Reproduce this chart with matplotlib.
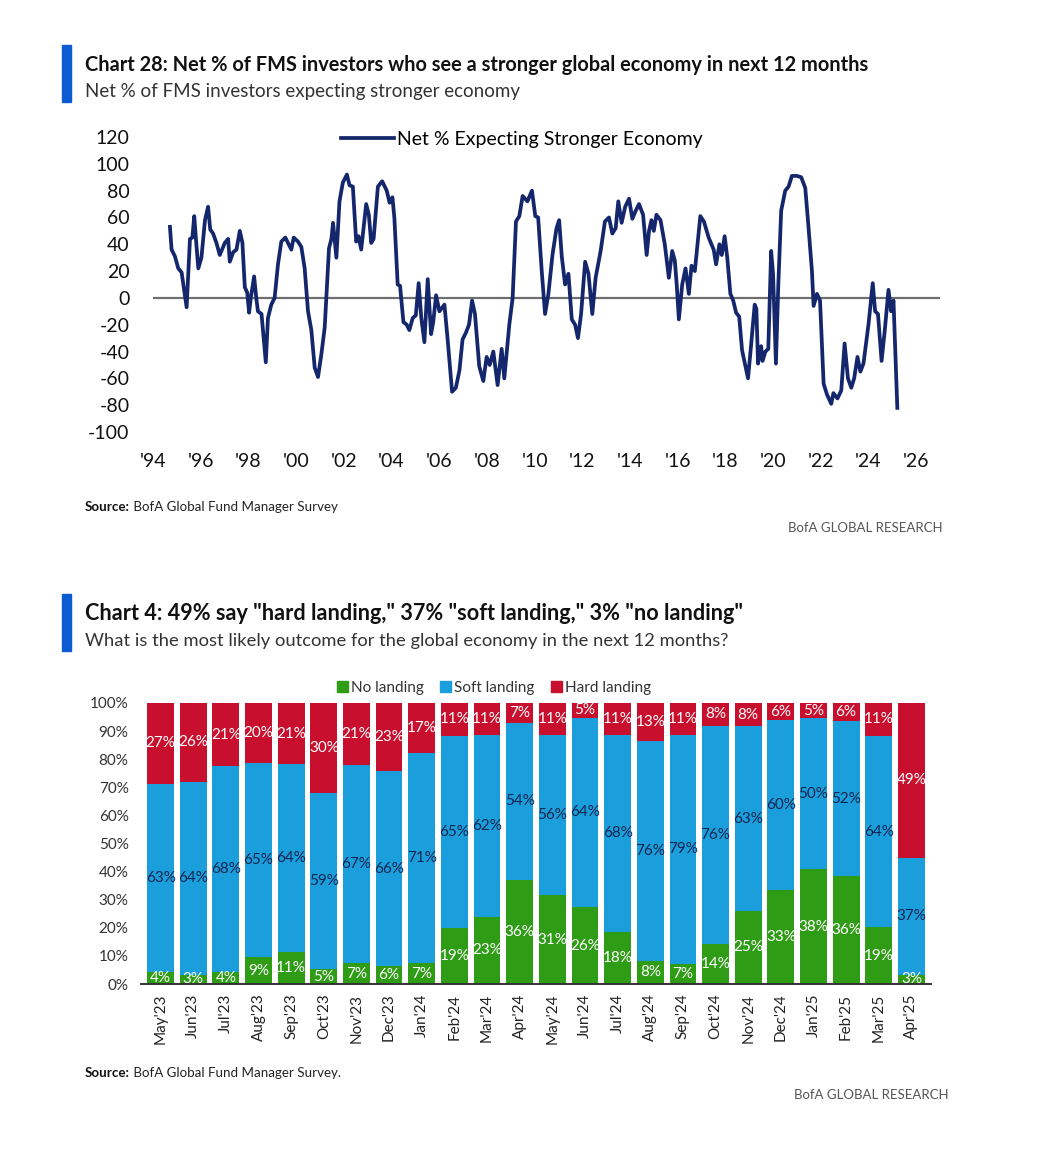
import numpy as np
import matplotlib
matplotlib.use("Agg")
import matplotlib.pyplot as plt
from matplotlib import font_manager
from matplotlib.patches import Rectangle, Patch
from matplotlib.lines import Line2D

# -----------------------------
#  Data: Chart 28 (net % expecting stronger economy)
# -----------------------------
years = [1994.71, 1994.78, 1994.92, 1995.06, 1995.20, 1995.41, 1995.55, 1995.65, 1995.73, 1995.80,
         1995.90, 1996.03, 1996.18, 1996.31, 1996.40, 1996.52, 1996.66, 1996.80, 1997.01, 1997.15,
         1997.22, 1997.36, 1997.50, 1997.64, 1997.75, 1997.85, 1997.95, 1998.03, 1998.10, 1998.24,
         1998.33, 1998.40, 1998.55, 1998.73, 1998.82, 1998.96, 1999.10, 1999.24, 1999.38, 1999.55,
         1999.80, 1999.90, 2000.08, 2000.22, 2000.36, 2000.50, 2000.64, 2000.78, 2000.92, 2001.06,
         2001.20, 2001.38, 2001.48, 2001.55, 2001.69, 2001.82, 2001.96, 2002.13, 2002.24, 2002.38,
         2002.52, 2002.62, 2002.73, 2002.94, 2003.05, 2003.15, 2003.25, 2003.43, 2003.61, 2003.80,
         2003.92, 2004.04, 2004.12, 2004.26, 2004.36, 2004.50, 2004.64, 2004.75, 2004.89, 2005.02,
         2005.14, 2005.25, 2005.38, 2005.52, 2005.66, 2005.75, 2005.87, 2006.01, 2006.22, 2006.36,
         2006.54, 2006.70, 2006.85, 2006.98, 2007.12, 2007.25, 2007.38, 2007.50, 2007.68, 2007.85,
         2007.99, 2008.12, 2008.27, 2008.45, 2008.62, 2008.73, 2008.94, 2009.08, 2009.22, 2009.36,
         2009.50, 2009.70, 2009.89, 2010.03, 2010.15, 2010.30, 2010.44, 2010.58, 2010.75, 2010.92,
         2011.03, 2011.14, 2011.28, 2011.42, 2011.56, 2011.70, 2011.82, 2011.95, 2012.12, 2012.26,
         2012.42, 2012.56, 2012.77, 2012.95, 2013.12, 2013.26, 2013.40, 2013.51, 2013.65, 2013.80,
         2013.96, 2014.10, 2014.24, 2014.38, 2014.55, 2014.70, 2014.80, 2014.90, 2015.00, 2015.11,
         2015.28, 2015.46, 2015.63, 2015.77, 2015.88, 2015.96, 2016.05, 2016.19, 2016.33, 2016.47,
         2016.58, 2016.72, 2016.95, 2017.10, 2017.30, 2017.51, 2017.61, 2017.75, 2017.85, 2017.97,
         2018.08, 2018.21, 2018.33, 2018.45, 2018.58, 2018.70, 2018.95, 2019.08, 2019.23, 2019.30,
         2019.37, 2019.50, 2019.56, 2019.68, 2019.80, 2019.92, 2020.00, 2020.12, 2020.22, 2020.34,
         2020.51, 2020.65, 2020.79, 2021.00, 2021.18, 2021.35, 2021.49, 2021.63, 2021.70, 2021.84,
         2021.97, 2022.12, 2022.26, 2022.44, 2022.53, 2022.70, 2022.86, 2023.00, 2023.14, 2023.28,
         2023.40, 2023.54, 2023.66, 2023.79, 2024.00, 2024.18, 2024.28, 2024.40, 2024.55, 2024.68,
         2024.84, 2024.95, 2025.05, 2025.21]
net_pct = [53, 36, 31, 22, 19, -7, 44, 45, 61, 44,
           22, 30, 58, 68, 51, 48, 41, 32, 41, 44,
           27, 34, 36, 50, 41, 8, 4, -11, 0, 16,
           0, -10, -12, -48, -15, -5, 0, 25, 42, 45,
           36, 45, 42, 38, 22, -10, -24, -52, -59, -42,
           -22, 37, 44, 56, 30, 72, 86, 92, 84, 83,
           42, 46, 36, 70, 62, 41, 44, 83, 87, 80,
           71, 75, 60, 10, 9, -18, -20, -24, -15, -13,
           11, -15, -33, 14, -27, -18, 2, -10, -5, -32,
           -70, -67, -54, -31, -26, -20, -2, -12, -51, -62,
           -44, -50, -40, -65, -38, -60, -20, 0, 57, 61,
           76, 72, 80, 61, 60, 20, -12, 3, 32, 52,
           58, 31, 10, 18, -16, -20, -30, -12, 27, 18,
           -12, 15, 35, 57, 60, 48, 52, 72, 56, 68,
           74, 59, 65, 70, 62, 32, 50, 58, 50, 62,
           58, 40, 15, 35, 28, 10, -16, 10, 22, 3,
           24, 20, 61, 57, 45, 36, 25, 40, 32, 46,
           30, 3, -2, -11, -14, -39, -60, -35, -5, -8,
           -49, -36, -47, -40, -38, 35, 18, -49, 10, 65,
           80, 83, 91, 91, 90, 82, 52, 20, -6, 3,
           -2, -64, -72, -79, -71, -75, -69, -34, -60, -67,
           -60, -44, -55, -49, -20, 11, -10, -12, -47, -25,
           6, -10, -2, -82]
year_ticks = list(range(1994, 2027, 2))

# -----------------------------
#  Data: Chart 4 (landing outcome)
# -----------------------------
months = ["May'23", "Jun'23", "Jul'23", "Aug'23", "Sep'23", "Oct'23", "Nov'23", "Dec'23",
          "Jan'24", "Feb'24", "Mar'24", "Apr'24", "May'24", "Jun'24", "Jul'24", "Aug'24",
          "Sep'24", "Oct'24", "Nov'24", "Dec'24", "Jan'25", "Feb'25", "Mar'25", "Apr'25"]
no_landing = [4, 3, 4, 9, 11, 5, 7, 6, 7, 19, 23, 36, 31, 26, 18, 8, 7, 14, 25, 33, 38, 36, 19, 3]
soft_landing = [63, 64, 68, 65, 64, 59, 67, 66, 71, 65, 62, 54, 56, 64, 68, 76, 79, 76, 63, 60, 50, 52, 64, 37]
hard_landing = [27, 26, 21, 20, 21, 30, 21, 23, 17, 11, 11, 7, 11, 5, 11, 13, 11, 8, 8, 6, 5, 6, 11, 49]

# -----------------------------
#  Style
# -----------------------------
names = {f.name for f in font_manager.fontManager.ttflist}
if 'Liberation Sans Narrow' in names:
    COND, K = 'Liberation Sans Narrow', 1.0
else:
    COND, K = 'Lato', 0.88
plt.rcParams['font.family'] = ['Lato', 'DejaVu Sans']
plt.rcParams['axes.unicode_minus'] = False

NAVY = '#15276c'
ACCENT = '#0b5bd3'
GREEN = '#2f9c16'
BLUE = '#1a9fdc'
RED = '#c8102e'
GREY_TXT = '#555555'

W, H = 1044, 1152
fig = plt.figure(figsize=(W / 100, H / 100), dpi=100)


def fx(px):
    return px / W


def fy(py):
    return 1 - py / H


def header(top, title, subtitle, tsize, ssize):
    fig.patches.append(Rectangle((fx(62), fy(top + 57)), fx(9), 57 / H, transform=fig.transFigure,
                                 color=ACCENT, zorder=5))
    fig.text(fx(85), fy(top + 20), title, fontsize=tsize, fontweight='bold', family=COND,
             color='#111111', va='center')
    fig.text(fx(85), fy(top + 47), subtitle, fontsize=ssize, family=COND,
             color='#333333', va='center')


def source(ax, ypx, text, right_ypx, right_x):
    t = fig.text(fx(85), fy(ypx), 'Source:', fontsize=11 * K, fontweight='bold', family=COND,
                 color='#111111', va='center')
    ax.annotate(' ' + text, xy=(1, 0.5), xycoords=t, va='center', ha='left',
                fontsize=11 * K, family=COND, color='#222222', annotation_clip=False)
    fig.text(fx(right_x), fy(right_ypx), 'BofA GLOBAL RESEARCH', fontsize=10.8 * K, family=COND,
             color=GREY_TXT, va='center', ha='right')


# -----------------------------
#  Chart 28
# -----------------------------
header(45, 'Chart 28: Net % of FMS investors who see a stronger global economy in next 12 months',
       'Net % of FMS investors expecting stronger economy', 14.4, 13.5)

ax1 = fig.add_axes([fx(153), fy(432), fx(940) - fx(153), fy(137) - fy(432)])
ax1.axhline(0, color='#6f6f6f', lw=1.6, zorder=1)
ax1.plot(years, net_pct, color=NAVY, lw=2.7, solid_joinstyle='round', zorder=3)
ax1.set_xlim(1994, 2027)
ax1.set_ylim(-100, 120)
ax1.set_yticks(range(-100, 121, 20))
ax1.set_xticks(year_ticks)
ax1.set_xticklabels(["'%02d" % (y % 100) for y in year_ticks])
for s in ax1.spines.values():
    s.set_visible(False)
ax1.tick_params(axis='y', length=0, labelsize=14, pad=17, labelcolor='#111111')
ax1.tick_params(axis='x', length=0, labelsize=14, pad=15, labelcolor='#111111')

fig.legend(handles=[Line2D([], [], color=NAVY, lw=2.7)], labels=['Net % Expecting Stronger Economy'],
           loc='center', bbox_to_anchor=(fx(522), fy(139)), frameon=False, fontsize=14,
           handlelength=2.7, handletextpad=0.15, borderpad=0)

source(ax1, 507, 'BofA Global Fund Manager Survey', 528, 943)

# -----------------------------
#  Chart 4
# -----------------------------
header(594, 'Chart 4: 49% say "hard landing," 37% "soft landing," 3% "no landing"',
       'What is the most likely outcome for the global economy in the next 12 months?', 15.6, 13.2)

no_a = np.array(no_landing, float)
soft_a = np.array(soft_landing, float)
hard_a = np.array(hard_landing, float)
tot = no_a + soft_a + hard_a
no_s, soft_s, hard_s = no_a / tot * 100, soft_a / tot * 100, hard_a / tot * 100
x = np.arange(len(months))

ax2 = fig.add_axes([fx(141), fy(984), fx(931) - fx(141), fy(703) - fy(984)])
bw = 0.82
ax2.bar(x, no_s, width=bw, color=GREEN, zorder=2)
ax2.bar(x, soft_s, bottom=no_s, width=bw, color=BLUE, zorder=2)
ax2.bar(x, hard_s, bottom=no_s + soft_s, width=bw, color=RED, zorder=2)

lab_kw = dict(ha='center', va='center', fontsize=12.5 * K, family=COND, zorder=4)
for i in range(len(x)):
    ax2.text(x[i], no_s[i] / 2, f'{no_landing[i]}%', color='white', **lab_kw)
    ax2.text(x[i], no_s[i] + soft_s[i] / 2, f'{soft_landing[i]}%', color='#16254f', **lab_kw)
    ax2.text(x[i], 100 - hard_s[i] / 2, f'{hard_landing[i]}%', color='white', **lab_kw)

ax2.set_xlim(-0.6, len(x) - 0.4)
ax2.set_ylim(0, 100)
ax2.set_yticks(range(0, 101, 10))
ax2.set_yticklabels([f'{v}%' for v in range(0, 101, 10)])
ax2.set_xticks(x)
ax2.set_xticklabels(months, rotation=90)
for k in ['top', 'right', 'left']:
    ax2.spines[k].set_visible(False)
ax2.spines['bottom'].set_color('#333333')
ax2.spines['bottom'].set_linewidth(1.4)
ax2.spines['bottom'].set_zorder(3)
ax2.tick_params(axis='y', length=0, labelsize=12.5 * K, pad=9, labelcolor='#333333')
ax2.tick_params(axis='x', length=0, labelsize=12.5 * K, pad=7, labelcolor='#222222')
for lbl in ax2.get_yticklabels() + ax2.get_xticklabels():
    lbl.set_family(COND)

handles = [Patch(color=GREEN), Patch(color=BLUE), Patch(color=RED)]
leg = fig.legend(handles, ['No landing', 'Soft landing', 'Hard landing'], loc='center', ncol=3,
                 bbox_to_anchor=(fx(494), fy(688)), frameon=False, fontsize=12.5 * K,
                 handlelength=0.7, handleheight=0.7, handletextpad=0.2, columnspacing=1.1,
                 borderpad=0)
for t in leg.get_texts():
    t.set_family(COND)
    t.set_color('#333333')

source(ax2, 1073, 'BofA Global Fund Manager Survey.', 1095, 948)

fig.savefig('out.png', dpi=100, facecolor='white')
